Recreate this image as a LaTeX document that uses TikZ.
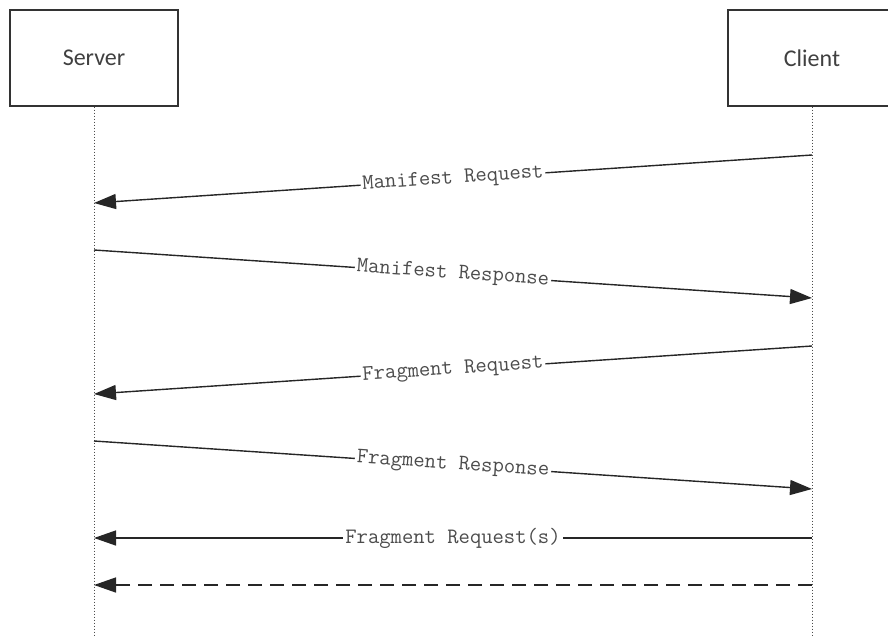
\documentclass[tikz,border=0pt]{standalone}
\usepackage{fontspec}
\setmainfont{Carlito}
\usetikzlibrary{arrows.meta}
\begin{document}
\begin{tikzpicture}[x=1pt,y=-1pt,
  actor/.style={draw=black!80,line width=1.3pt,minimum width=168pt,minimum height=96pt,inner sep=0pt,font=\fontsize{24}{28}\selectfont,text=black!75},
  life/.style={line width=1pt,dotted,black!70},
  msg/.style={line width=1.4pt,black!85,-{Triangle[length=22pt,width=15pt]}},
  lbl/.style={fill=white,inner sep=2pt,font=\ttfamily\fontsize{22}{26}\selectfont,text=black!70}]
\useasboundingbox (0,0) rectangle (888,635);
\begin{scope}
\clip (0,0) rectangle (888,635);
\node[actor] (server) at (94,58) {Server};
\node[actor] (client) at (812,58) {Client};
\coordinate (sb) at (94,635);
\coordinate (cb) at (812,635);
\draw[life] (server.south) -- (sb);
\draw[life] (client.south) -- (cb);
\end{scope}
\coordinate (c1) at (812,155); \coordinate (s1) at (94,203);
\coordinate (s2) at (94,250); \coordinate (c2) at (812,298);
\coordinate (c3) at (812,346); \coordinate (s3) at (94,394);
\coordinate (s4) at (94,441); \coordinate (c4) at (812,489);
\coordinate (c5) at (812,538); \coordinate (s5) at (94,538);
\coordinate (c6) at (812,585); \coordinate (s6) at (94,585);
\draw[msg] (c1) -- node[lbl,sloped] {Manifest Request} (s1);
\draw[msg] (s2) -- node[lbl,sloped] {Manifest Response} (c2);
\draw[msg] (c3) -- node[lbl,sloped] {Fragment Request} (s3);
\draw[msg] (s4) -- node[lbl,sloped] {Fragment Response} (c4);
\draw[msg] (c5) -- node[lbl] {Fragment Request(s)} (s5);
\draw[msg,dash pattern=on 14pt off 8pt] (c6) -- (s6);
\end{tikzpicture}
\end{document}
